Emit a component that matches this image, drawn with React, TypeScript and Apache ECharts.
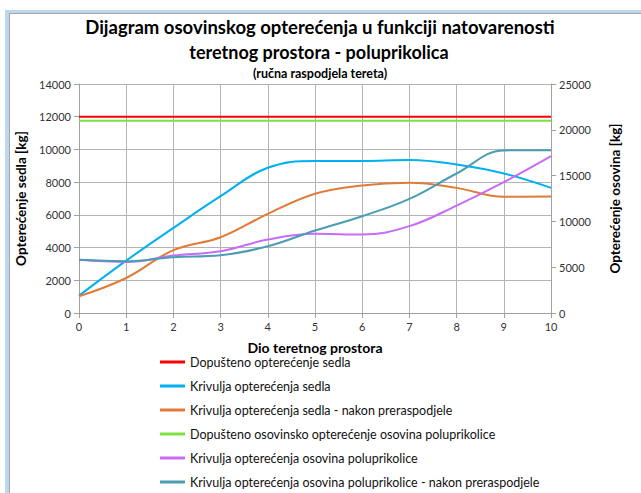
import React, { useEffect, useRef } from "react";
import * as echarts from "echarts";

const xValues = [0, 1, 2, 3, 4, 5, 6, 7, 8, 9, 10];
const dopustenoSedla = [12000, 12000, 12000, 12000, 12000, 12000, 12000, 12000, 12000, 12000, 12000];
const krivuljaSedla = [1060, 3200, 5200, 7140, 8880, 9290, 9290, 9350, 9080, 8530, 7650];
const krivuljaSedlaNakon = [1020, 2140, 3840, 4630, 6060, 7290, 7800, 7960, 7650, 7100, 7120];
const dopustenoOsovina = [21000, 21000, 21000, 21000, 21000, 21000, 21000, 21000, 21000, 21000, 21000];
const krivuljaOsovina = [5800, 5580, 6270, 6740, 8020, 8640, 8560, 9480, 11730, 14290, 17130];
const krivuljaOsovinaNakon = [5800, 5650, 6090, 6300, 7290, 9000, 10570, 12460, 15230, 17750, 17780];

const seriesNames = [
  "Dopušteno opterećenje sedla",
  "Krivulja opterećenja sedla",
  "Krivulja opterećenja sedla - nakon preraspodjele",
  "Dopušteno osovinsko opterećenje osovina poluprikolice",
  "Krivulja opterećenja osovina poluprikolice",
  "Krivulja opterećenja osovina poluprikolice - nakon preraspodjele",
];
const colors = ["#ff0000", "#00b0f0", "#e07b39", "#7fe040", "#c86bf8", "#4a9db3"];

const FONT = "Lato, 'Open Sans', sans-serif";

export default function App() {
  const ref = useRef<HTMLDivElement>(null);
  useEffect(() => {
    if (!ref.current) return;
    const chart = echarts.init(ref.current, undefined, { renderer: "svg" });
    const pair = (ys: number[]) => xValues.map((x, i) => [x, ys[i]]);
    const datasets = [
      { d: dopustenoSedla, axis: 0, smooth: false },
      { d: krivuljaSedla, axis: 0, smooth: 0.4 },
      { d: krivuljaSedlaNakon, axis: 0, smooth: 0.4 },
      { d: dopustenoOsovina, axis: 1, smooth: false },
      { d: krivuljaOsovina, axis: 1, smooth: 0.4 },
      { d: krivuljaOsovinaNakon, axis: 1, smooth: 0.4 },
    ];
    const plain = (v: number) => String(v);
    chart.setOption({
      animation: false,
      textStyle: { fontFamily: FONT },
      graphic: [
        { type: "rect", shape: { x: 5, y: 10, width: 640, height: 490 }, style: { fill: "#bdd7ee" }, silent: true, z: -10 },
        { type: "rect", shape: { x: 9, y: 13, width: 640, height: 490 }, style: { fill: "#a6a6a6" }, silent: true, z: -9 },
        { type: "rect", shape: { x: 10, y: 14, width: 640, height: 490 }, style: { fill: "#ffffff" }, silent: true, z: -8 },
        {
          type: "text",
          x: 320,
          y: 27,
          style: {
            text: "Dijagram osovinskog opterećenja u funkciji natovarenosti",
            fontSize: 18.5,
            fontWeight: "bold",
            fontFamily: FONT,
            fill: "#000",
            align: "center",
            verticalAlign: "middle",
          },
        },
        {
          type: "text",
          x: 319,
          y: 52,
          style: {
            text: "teretnog prostora - poluprikolica",
            fontSize: 18,
            fontWeight: "bold",
            fontFamily: FONT,
            fill: "#000",
            align: "center",
            verticalAlign: "middle",
          },
        },
        {
          type: "text",
          x: 320,
          y: 73,
          style: {
            text: "(ručna raspodjela tereta)",
            fontSize: 12.5,
            fontWeight: "bold",
            fontFamily: FONT,
            fill: "#000",
            align: "center",
            verticalAlign: "middle",
          },
        },
      ],
      grid: { left: 79, right: 90, top: 84, bottom: 180, containLabel: false },
      xAxis: {
        type: "value",
        min: 0,
        max: 10,
        interval: 1,
        name: "Dio teretnog prostora",
        nameLocation: "middle",
        nameGap: 27,
        nameTextStyle: { fontSize: 14, fontWeight: "bold", color: "#000", fontFamily: FONT },
        axisLine: { show: true, lineStyle: { color: "#a0a0a0", width: 1 } },
        axisTick: { show: true, length: 5, lineStyle: { color: "#a0a0a0" } },
        axisLabel: { fontSize: 11, color: "#333", margin: 8, fontFamily: FONT, formatter: plain },
        splitLine: { show: true, lineStyle: { color: "#b4b4b4", width: 1 } },
      },
      yAxis: [
        {
          type: "value",
          min: 0,
          max: 14000,
          interval: 2000,
          position: "left",
          name: "Opterećenje sedla [kg]",
          nameLocation: "middle",
          nameRotate: 90,
          nameGap: 46,
          nameTextStyle: { fontSize: 13.5, fontWeight: "bold", color: "#000", fontFamily: FONT },
          axisLine: { show: true, lineStyle: { color: "#a0a0a0" } },
          axisTick: { show: true, length: 5, lineStyle: { color: "#a0a0a0" } },
          axisLabel: { fontSize: 11, color: "#333", margin: 8, fontFamily: FONT, formatter: plain },
          splitLine: { show: true, lineStyle: { color: "#b4b4b4", width: 1 } },
        },
        {
          type: "value",
          min: 0,
          max: 25000,
          interval: 5000,
          position: "right",
          name: "Opterećenje osovina [kg]",
          nameLocation: "middle",
          nameRotate: 90,
          nameGap: 57,
          nameTextStyle: { fontSize: 13.5, fontWeight: "bold", color: "#000", fontFamily: FONT },
          axisLine: { show: true, lineStyle: { color: "#a0a0a0" } },
          axisTick: { show: true, length: 5, lineStyle: { color: "#a0a0a0" } },
          axisLabel: { fontSize: 11, color: "#333", margin: 8, fontFamily: FONT, formatter: plain },
          splitLine: { show: false },
        },
      ],
      legend: {
        orient: "vertical",
        left: 160,
        top: 355,
        height: 200,
        padding: 0,
        itemWidth: 25,
        itemHeight: 3,
        itemGap: 10,
        icon: "rect",
        textStyle: { fontSize: 12.5, color: "#111", fontFamily: FONT, lineHeight: 14 },
        data: seriesNames,
      },
      series: datasets.map((s, i) => ({
        name: seriesNames[i],
        type: "line",
        yAxisIndex: s.axis,
        data: pair(s.d),
        smooth: s.smooth,
        showSymbol: false,
        symbol: "none",
        color: colors[i],
        lineStyle: { width: 2, color: colors[i] },
        z: i === 0 ? 3 : 2,
      })),
    });
    return () => chart.dispose();
  }, []);
  return (
    <div
      ref={ref}
      style={{ position: "fixed", left: 0, top: 0, width: 641, height: 493, background: "#fff" }}
    />
  );
}
